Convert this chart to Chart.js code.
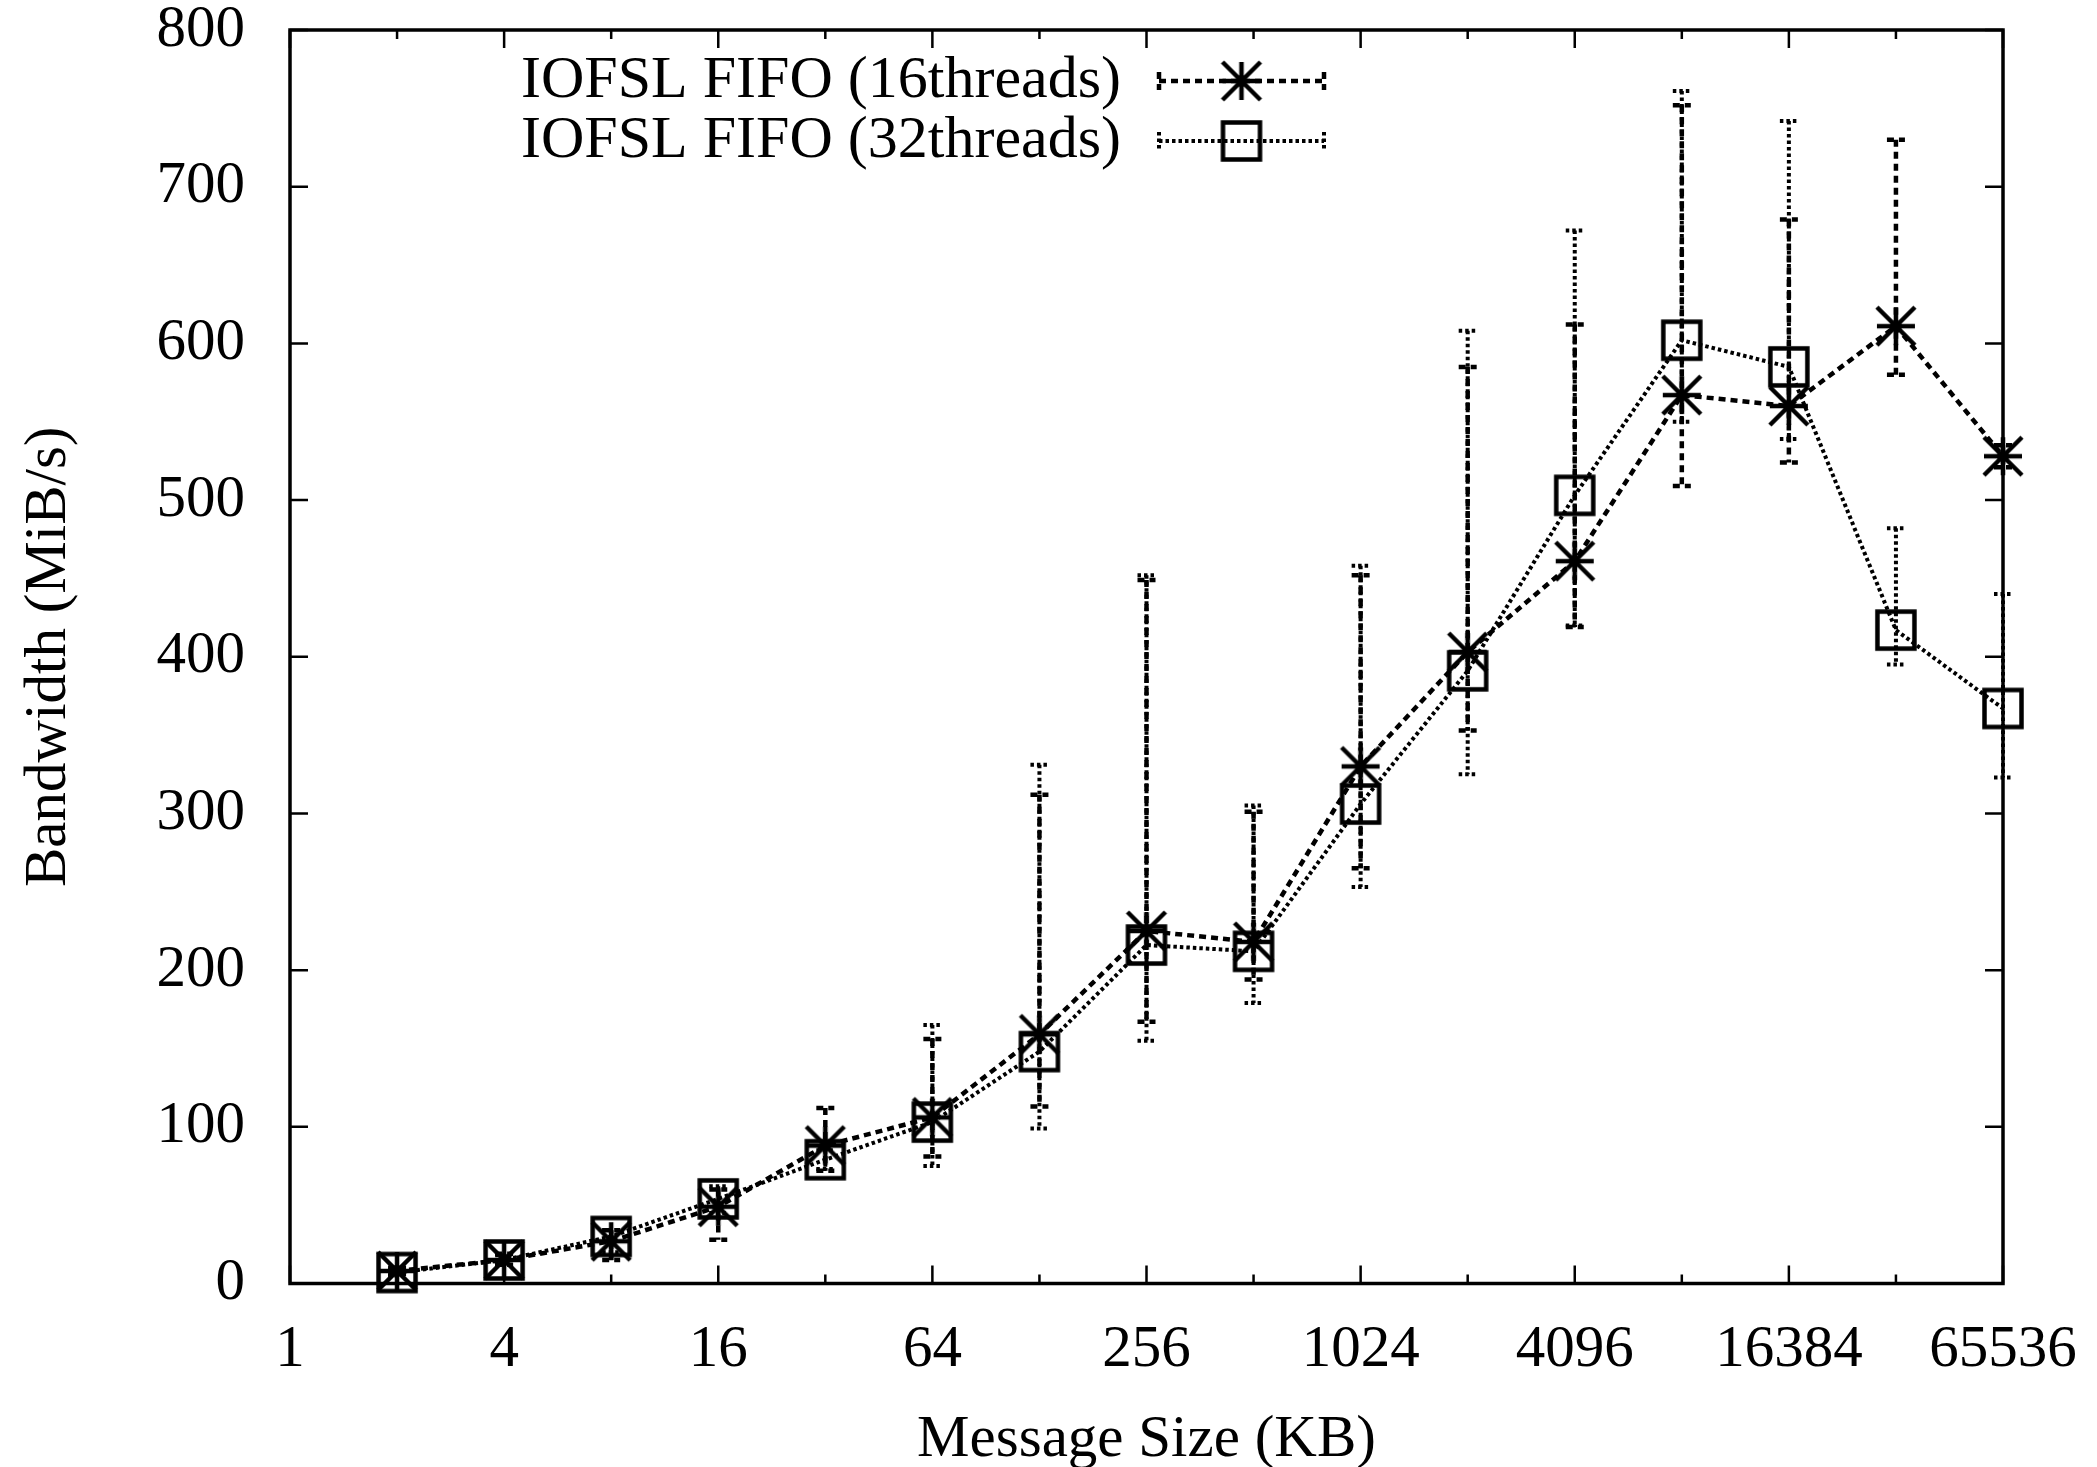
<!DOCTYPE html>
<html lang="en">
<head>
<meta charset="UTF-8">
<title>IOFSL FIFO bandwidth</title>
<script src="https://cdn.jsdelivr.net/npm/chart.js"></script>
<style>
  html, body { margin: 0; padding: 0; background: #fff; }
  canvas { display: block; }
</style>
</head>
<body>
<canvas id="bwChart" width="2097" height="1467"></canvas>
<script>
// message sizes (KB) and mean bandwidth (MiB/s)
var sizes = [2, 4, 8, 16, 32, 64, 128, 256, 512, 1024, 2048, 4096, 8192, 16384, 32768, 65536];
var bw16 = [8, 15, 27, 49, 88, 106, 159, 225, 218, 330, 403, 461, 567, 560, 611, 528];
var bw32 = [7, 15, 30, 54, 79, 103, 148, 216, 212, 306, 391, 503, 602, 585, 417, 367];

// min / max over the runs, drawn as error bars
var lo16 = [6, 12, 15, 28, 72, 81, 113, 167, 194, 265, 353, 419, 509, 524, 580, 521];
var hi16 = [10, 19, 34, 60, 112, 156, 312, 449, 301, 452, 585, 612, 752, 679, 730, 535];
var lo32 = [5, 12, 20, 45, 73, 75, 99, 155, 179, 253, 325, 420, 550, 539, 395, 323];
var hi32 = [9, 18, 34, 62, 85, 165, 331, 452, 305, 458, 608, 672, 761, 742, 482, 440];

// axis ticks
var xLabelTicks = [1, 4, 16, 64, 256, 1024, 4096, 16384, 65536];
var xTickMarks = [1, 2, 4, 8, 16, 32, 64, 128, 256, 512, 1024, 2048, 4096, 8192, 16384, 32768, 65536];
var yTicks = [0, 100, 200, 300, 400, 500, 600, 700, 800];

var seriesNames = ['IOFSL FIFO (16threads)', 'IOFSL FIFO (32threads)'];

var FONT = '"Liberation Serif", "Times New Roman", serif';
var FONT_SIZE = 59;

// gnuplot-like point symbols
function makeStar(half, lw) {
  var c = document.createElement('canvas');
  var s = 46;
  c.width = s; c.height = s;
  var g = c.getContext('2d');
  g.translate(s / 2, s / 2);
  g.strokeStyle = '#000';
  g.lineWidth = lw;
  g.beginPath();
  g.moveTo(-half, 0); g.lineTo(half, 0);
  g.moveTo(0, -half); g.lineTo(0, half);
  g.moveTo(-half, -half); g.lineTo(half, half);
  g.moveTo(-half, half); g.lineTo(half, -half);
  g.stroke();
  return c;
}

function makeSquare(half, lw) {
  var c = document.createElement('canvas');
  var s = 46;
  c.width = s; c.height = s;
  var g = c.getContext('2d');
  g.translate(s / 2, s / 2);
  g.strokeStyle = '#000';
  g.lineWidth = lw;
  g.strokeRect(-half, -half, 2 * half, 2 * half);
  return c;
}

var starImg = makeStar(19, 4.5);
var squareImg = makeSquare(18.5, 4.5);

function toPoints(ys) {
  return sizes.map(function (s, i) { return { x: s, y: ys[i] }; });
}

// border box with inward tics on all four sides
var frame = {
  id: 'frame',
  beforeDatasetsDraw: function (chart) {
    var a = chart.chartArea, ctx = chart.ctx;
    var xs = chart.scales.x, ys = chart.scales.y;
    ctx.save();
    ctx.strokeStyle = '#000';
    ctx.lineWidth = 2.5;
    ctx.beginPath();
    xTickMarks.forEach(function (v) {
      var px = xs.getPixelForValue(v);
      var len = xLabelTicks.indexOf(v) >= 0 ? 18 : 9;
      ctx.moveTo(px, a.bottom); ctx.lineTo(px, a.bottom - len);
      ctx.moveTo(px, a.top); ctx.lineTo(px, a.top + len);
    });
    yTicks.forEach(function (v) {
      var py = ys.getPixelForValue(v);
      ctx.moveTo(a.left, py); ctx.lineTo(a.left + 18, py);
      ctx.moveTo(a.right, py); ctx.lineTo(a.right - 18, py);
    });
    ctx.stroke();
    ctx.lineWidth = 3.5;
    ctx.strokeRect(a.left, a.top, a.right - a.left, a.bottom - a.top);
    ctx.restore();
  }
};

// vertical min/max bars with small caps
var errorBars = {
  id: 'errorBars',
  beforeDatasetsDraw: function (chart) {
    var ctx = chart.ctx, ys = chart.scales.y;
    chart.data.datasets.forEach(function (ds, i) {
      var meta = chart.getDatasetMeta(i);
      ctx.save();
      ctx.strokeStyle = '#000';
      ctx.lineWidth = ds.borderWidth;
      ctx.setLineDash(ds.borderDash);
      meta.data.forEach(function (pt, j) {
        var yl = ys.getPixelForValue(ds.errLo[j]);
        var yh = ys.getPixelForValue(ds.errHi[j]);
        ctx.beginPath();
        ctx.moveTo(pt.x, yh); ctx.lineTo(pt.x, yl);
        ctx.moveTo(pt.x - 9, yl); ctx.lineTo(pt.x + 9, yl);
        ctx.moveTo(pt.x - 9, yh); ctx.lineTo(pt.x + 9, yh);
        ctx.stroke();
      });
      ctx.restore();
    });
  }
};

// key: text on the left, line sample with marker on the right
var keyBox = {
  id: 'keyBox',
  afterDraw: function (chart) {
    var ctx = chart.ctx;
    var textRight = 1121, x0 = 1159, x1 = 1324;
    chart.data.datasets.forEach(function (ds, i) {
      var yc = 81 + i * 60;
      ctx.save();
      ctx.fillStyle = '#000';
      ctx.font = '60px ' + FONT;
      ctx.textAlign = 'right';
      ctx.textBaseline = 'middle';
      ctx.fillText(ds.label, textRight, yc);
      ctx.strokeStyle = '#000';
      ctx.lineWidth = ds.borderWidth;
      ctx.setLineDash(ds.borderDash);
      ctx.beginPath();
      ctx.moveTo(x0, yc); ctx.lineTo(x1, yc);
      ctx.moveTo(x0, yc - 9); ctx.lineTo(x0, yc + 9);
      ctx.moveTo(x1, yc - 9); ctx.lineTo(x1, yc + 9);
      ctx.stroke();
      var img = ds.pointStyle;
      ctx.drawImage(img, (x0 + x1) / 2 - img.width / 2, yc - img.height / 2);
      ctx.restore();
    });
  }
};

var ctx = document.getElementById('bwChart').getContext('2d');
var bwChart = new Chart(ctx, {
  type: 'line',
  data: {
    datasets: [{
      label: seriesNames[0],
      data: toPoints(bw16),
      errLo: lo16,
      errHi: hi16,
      borderColor: '#000',
      borderWidth: 4.5,
      borderDash: [7, 5],
      pointStyle: starImg,
      pointRadius: 20,
      pointHoverRadius: 20,
      tension: 0,
      fill: false,
      clip: false,
      order: 1
    }, {
      label: seriesNames[1],
      data: toPoints(bw32),
      errLo: lo32,
      errHi: hi32,
      borderColor: '#000',
      borderWidth: 4,
      borderDash: [3.5, 3],
      pointStyle: squareImg,
      pointRadius: 20,
      pointHoverRadius: 20,
      tension: 0,
      fill: false,
      clip: false,
      order: 0
    }]
  },
  options: {
    responsive: false,
    animation: false,
    events: [],
    layout: { padding: { top: 30, right: 94, bottom: 0, left: 0 } },
    plugins: {
      legend: { display: false },
      tooltip: { enabled: false }
    },
    scales: {
      x: {
        type: 'logarithmic',
        min: 1,
        max: 65536,
        grid: { display: false },
        border: { display: false },
        afterBuildTicks: function (scale) {
          scale.ticks = xLabelTicks.map(function (v) { return { value: v }; });
        },
        afterFit: function (scale) {
          scale.height = 1467 - 1283.5;
          scale.paddingLeft = 0;
          scale.paddingRight = 0;
        },
        ticks: {
          autoSkip: false,
          maxRotation: 0,
          padding: 29,
          color: '#000',
          font: { family: FONT, size: FONT_SIZE, lineHeight: 1 },
          callback: function (v) { return String(v); }
        },
        title: {
          display: true,
          text: 'Message Size (KB)',
          color: '#000',
          font: { family: FONT, size: FONT_SIZE, lineHeight: 0.9 },
          padding: { top: 0, bottom: 0 }
        }
      },
      y: {
        min: 0,
        max: 800,
        grid: { display: false },
        border: { display: false },
        afterFit: function (scale) {
          scale.width = 290;
          scale.paddingTop = 0;
          scale.paddingBottom = 0;
        },
        ticks: {
          stepSize: 100,
          padding: 37,
          color: '#000',
          font: { family: FONT, size: FONT_SIZE, lineHeight: 1 }
        },
        title: {
          display: true,
          text: 'Bandwidth (MiB/s)',
          color: '#000',
          font: { family: FONT, size: FONT_SIZE, lineHeight: 1 },
          padding: { top: 19.5, bottom: 0 }
        }
      }
    }
  },
  plugins: [frame, errorBars, keyBox]
});
</script>
</body>
</html>
